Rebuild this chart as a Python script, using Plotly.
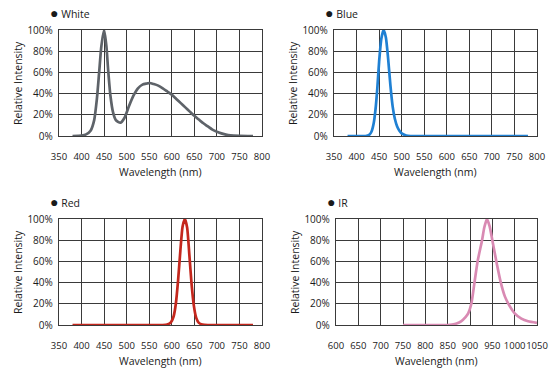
import plotly.graph_objects as go

# ---- data ----
white_nm = [380, 400, 410, 420, 428, 434, 439, 444, 450, 455, 459, 464, 470, 476, 486, 495, 505, 515, 525,
            535, 545, 551, 560, 570, 580, 590, 600, 610, 620, 630, 640, 650, 660, 670, 680, 690, 700,
            710, 720, 730, 750, 780]
white_pct = [0, 0.5, 1.5, 5, 15, 35, 60, 85, 100, 85, 62, 38, 22, 15, 12.5, 17, 28, 38, 45,
             48.5, 49.5, 50, 49, 47.5, 45, 42, 39, 35, 31, 27, 23, 19, 15.5, 12, 9, 6, 4,
             2.5, 1.3, 0.6, 0.2, 0]

blue_nm = [380, 420, 428, 433, 438, 442, 446, 450, 455, 460, 465, 470, 475, 480, 485, 490, 495, 500, 510, 520, 550, 780]
blue_pct = [0, 0, 1, 4, 12, 25, 45, 70, 92, 100, 93, 73, 48, 28, 16, 9, 5, 2.5, 0.5, 0, 0, 0]

red_nm = [380, 580, 590, 598, 604, 609, 614, 619, 624, 629, 634, 639, 644, 649, 654, 660, 668, 680, 780]
red_pct = [0, 0, 0.5, 2.5, 8, 20, 42, 70, 93, 100, 92, 66, 38, 18, 7, 2, 0.5, 0, 0]

ir_nm = [750, 850, 860, 870, 880, 890, 896, 903, 910, 917, 927, 932, 938, 944, 950, 959, 969, 978, 986, 1000,
         1015, 1030, 1050]
ir_pct = [0, 0, 0.5, 1.5, 3.5, 7.5, 11, 20, 40, 60, 80, 92, 100, 93, 80, 60, 40, 27, 20, 11,
          6, 3.5, 2]

vis_ticks = [350, 400, 450, 500, 550, 600, 650, 700, 750, 800]
ir_ticks = [600, 650, 700, 750, 800, 850, 900, 950, 1000, 1050]
y_ticks = [0, 20, 40, 60, 80, 100]
y_labels = ["0%", "20%", "40%", "60%", "80%", "100%"]

panels = [
    ("White", white_nm, white_pct, "#5e6369", vis_ticks),
    ("Blue", blue_nm, blue_pct, "#1f80d3", vis_ticks),
    ("Red", red_nm, red_pct, "#c4271d", vis_ticks),
    ("IR", ir_nm, ir_pct, "#d98ab3", ir_ticks),
]

W, H = 550, 379
# plot-area boxes in pixels: (left, right, top, bottom)
boxes = [(59, 262, 30, 136), (334, 537, 30, 136), (59, 262, 219, 325), (336, 537, 219, 325)]

FONT = "Open Sans"
fig = go.Figure()
annotations = []
grid_col = "#3a3a3a"

for i, ((name, xs, ys, col, ticks), (l, r, t, b)) in enumerate(zip(panels, boxes)):
    n = "" if i == 0 else str(i + 1)
    xa, ya = "x" + n, "y" + n
    fig.add_trace(go.Scatter(x=xs, y=ys, mode="lines", line=dict(color=col, width=2.7, shape="spline", smoothing=0.6),
                             xaxis=xa, yaxis=ya, showlegend=False, name=name))
    xdom = [l / W, r / W]
    ydom = [1 - b / H, 1 - t / H]
    fig.update_layout(**{
        "xaxis" + n: dict(domain=xdom, anchor=ya, range=[ticks[0], ticks[-1]], tickvals=ticks,
                          showgrid=True, gridcolor=grid_col, gridwidth=1.4, zeroline=False,
                          showline=True, linecolor=grid_col, linewidth=1.4, mirror=True,
                          ticks="", ticklabelstandoff=11, automargin=False, tickangle=0,
                          tickfont=dict(family=FONT, size=9.5, color="#1a1a1a")),
        "yaxis" + n: dict(domain=ydom, anchor=xa, range=[0, 100], tickvals=y_ticks, ticktext=y_labels,
                          showgrid=True, gridcolor=grid_col, gridwidth=1.4, zeroline=False,
                          showline=True, linecolor=grid_col, linewidth=1.4, mirror=True,
                          ticks="", ticklabelstandoff=3, automargin=False,
                          tickfont=dict(family=FONT, size=10, color="#1a1a1a")),
    })
    cx = (l + r) / 2
    annotations.append(dict(text="Wavelength (nm)", x=cx / W, y=1 - (b + 36) / H, xref="paper", yref="paper",
                            showarrow=False, xanchor="center", yanchor="middle",
                            font=dict(family=FONT, size=10.5, color="#1a1a1a")))
    annotations.append(dict(text="Relative Intensity", x=(l - 41) / W, y=1 - ((t + b) / 2) / H,
                            xref="paper", yref="paper", showarrow=False, textangle=-90,
                            xanchor="center", yanchor="middle",
                            font=dict(family=FONT, size=10.5, color="#1a1a1a")))
    annotations.append(dict(text="<span style='font-size:14px'>●</span> " + name, x=(l - 11) / W,
                            y=1 - (t - 18) / H, xref="paper", yref="paper", showarrow=False,
                            xanchor="left", yanchor="middle",
                            font=dict(family=FONT, size=10.5, color="#1a1a1a")))

fig.update_layout(width=W, height=H, margin=dict(l=0, r=0, t=0, b=0), autosize=False,
                  paper_bgcolor="white", plot_bgcolor="white", annotations=annotations)
fig.write_html("out.html", config={"displayModeBar": False},
               post_script="document.body.style.margin='0';")
